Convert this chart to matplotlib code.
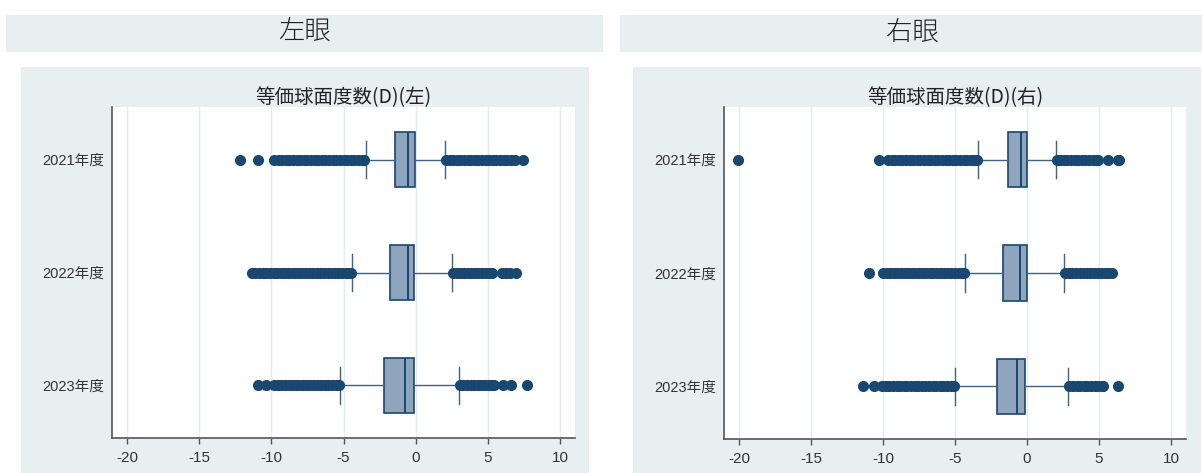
import matplotlib.pyplot as plt
from matplotlib.patches import Rectangle

# categories (top to bottom)
years = ['2021年度', '2022年度', '2023年度']

# left eye: box stats
left_q1 = [-1.44, -1.78, -2.18]
left_med = [-0.50, -0.53, -0.77]
left_q3 = [-0.06, -0.10, -0.13]
left_whislo = [-3.46, -4.38, -5.26]
left_whishi = [2.02, 2.55, 2.98]
left_fliers = [
    [-12.2, -10.9, -9.8, -9.5, -9.25, -9.0, -8.75, -8.5, -8.25, -8.0, -7.75,
     -7.5, -7.25, -7.0, -6.75, -6.5, -6.25, -6.0, -5.75, -5.5, -5.25, -5.0,
     -4.75, -4.5, -4.25, -4.0, -3.75, -3.55,
     2.1, 2.35, 2.6, 2.85, 3.1, 3.35, 3.6, 3.85, 4.1, 4.35, 4.6, 4.85, 5.1,
     5.35, 5.6, 5.85, 6.1, 6.35, 6.6, 6.85, 7.45],
    [-11.35, -11.1, -10.85, -10.6, -10.35, -10.1, -9.85, -9.6, -9.35, -9.1,
     -8.85, -8.6, -8.35, -8.1, -7.85, -7.6, -7.35, -7.1, -6.85, -6.6, -6.35,
     -6.1, -5.85, -5.6, -5.35, -5.1, -4.85, -4.6, -4.45,
     2.6, 2.85, 3.1, 3.35, 3.6, 3.85, 4.1, 4.35, 4.6, 4.85, 5.1, 5.3, 5.95,
     6.25, 6.55, 6.95],
    [-10.95, -10.35, -9.8, -9.55, -9.3, -9.05, -8.8, -8.55, -8.3, -8.05, -7.8,
     -7.55, -7.3, -7.05, -6.8, -6.55, -6.3, -6.05, -5.8, -5.55, -5.3,
     3.05, 3.3, 3.55, 3.8, 4.05, 4.3, 4.55, 4.8, 5.05, 5.3, 5.45, 6.05, 6.6,
     7.7],
]

# right eye
right_q1 = [-1.35, -1.70, -2.07]
right_med = [-0.42, -0.48, -0.69]
right_q3 = [-0.02, -0.02, -0.13]
right_whislo = [-3.41, -4.29, -5.03]
right_whishi = [2.03, 2.59, 2.88]
right_fliers = [
    [-20.1, -10.3, -9.65, -9.4, -9.15, -8.9, -8.65, -8.4, -8.15, -7.9, -7.65,
     -7.4, -7.15, -6.9, -6.65, -6.4, -6.15, -5.9, -5.65, -5.4, -5.15, -4.9,
     -4.65, -4.4, -4.15, -3.9, -3.65, -3.45,
     2.05, 2.3, 2.55, 2.8, 3.05, 3.3, 3.55, 3.8, 4.05, 4.3, 4.55, 4.8, 4.95,
     5.6, 6.3, 6.4],
    [-10.97, -10.0, -9.75, -9.5, -9.25, -9.0, -8.75, -8.5, -8.25, -8.0, -7.75,
     -7.5, -7.25, -7.0, -6.75, -6.5, -6.25, -6.0, -5.75, -5.5, -5.25, -5.0,
     -4.75, -4.5, -4.35,
     2.65, 2.9, 3.15, 3.4, 3.65, 3.9, 4.15, 4.4, 4.65, 4.9, 5.15, 5.4, 5.65,
     5.9],
    [-11.4, -10.6, -10.05, -9.8, -9.55, -9.3, -9.05, -8.8, -8.55, -8.3, -8.05,
     -7.8, -7.55, -7.3, -7.05, -6.8, -6.55, -6.3, -6.05, -5.8, -5.55, -5.3,
     -5.1,
     2.95, 3.2, 3.45, 3.7, 3.95, 4.2, 4.45, 4.7, 4.95, 5.2, 5.3, 6.3],
]

xticks = [-20, -15, -10, -5, 0, 5, 10]

NAVY = '#1a476f'
FILL = '#8fa5bd'
PANEL = '#e8eff1'
CJK = ['Noto Sans CJK JP', 'DejaVu Sans']
LAT = ['Liberation Sans', 'Noto Sans CJK JP']

W, H = 1202, 473
fig = plt.figure(figsize=(W / 100, H / 100), dpi=100)


def fig_rect(x0, y0, x1, y1):
    # pixel box (top-left origin) -> figure fraction
    return [x0 / W, 1 - y1 / H, (x1 - x0) / W, (y1 - y0) / H]


def add_bg(x0, y0, x1, y1):
    l, b, w, h = fig_rect(x0, y0, x1, y1)
    fig.patches.append(Rectangle((l, b), w, h, transform=fig.transFigure,
                                 facecolor=PANEL, edgecolor='none', zorder=-5))


# header bands and panel backgrounds
add_bg(6, 15, 603, 52)
add_bg(620, 15, 1202, 52)
add_bg(21, 67, 589, 473)
add_bg(633, 67, 1201, 473)
fig.text(304 / W, 1 - 32 / H, '左眼', ha='center', va='center',
         fontsize=19, family=CJK, fontweight='light', color='#222222')
fig.text(912 / W, 1 - 32 / H, '右眼', ha='center', va='center',
         fontsize=19, family=CJK, fontweight='light', color='#222222')


def draw_panel(rect, title, q1, med, q3, lo, hi, fliers):
    ax = fig.add_axes(fig_rect(*rect))
    ax.set_zorder(2)
    stats = []
    for i in range(len(years)):
        stats.append({'label': years[i], 'q1': q1[i], 'med': med[i], 'q3': q3[i],
                      'whislo': lo[i], 'whishi': hi[i], 'fliers': fliers[i]})
    ax.bxp(stats, positions=range(len(years)), orientation='horizontal',
           widths=0.49, capwidths=0.33, patch_artist=True,
           boxprops=dict(facecolor=FILL, edgecolor=NAVY, linewidth=1.2),
           medianprops=dict(color=NAVY, linewidth=1.4),
           whiskerprops=dict(color='#3d6386', linewidth=1.0),
           capprops=dict(color='#3d6386', linewidth=1.0),
           flierprops=dict(marker='o', markerfacecolor=NAVY, markeredgecolor=NAVY,
                           markersize=7, linestyle='none'))
    ax.set_xlim(-21.04, 11.04)
    ax.set_ylim(2.465, -0.465)
    ax.set_xticks(xticks)
    ax.set_xticklabels([str(t) for t in xticks], family=LAT, fontsize=11, color='#333333')
    ax.set_yticklabels(years, family=LAT, fontsize=10.5, color='#333333')
    ax.tick_params(axis='x', length=4, width=1, color='#555555', pad=5)
    ax.tick_params(axis='y', length=0, pad=6)
    ax.grid(axis='x', color='#e4ecef', linewidth=1)
    ax.set_axisbelow(True)
    for s in ['top', 'right']:
        ax.spines[s].set_visible(False)
    for s in ['left', 'bottom']:
        ax.spines[s].set_color('#555555')
        ax.spines[s].set_linewidth(1.2)
    ax.text(0.5, 1.027, title, transform=ax.transAxes, ha='center', va='center',
            fontsize=14, family=CJK, color='#222222')
    return ax


draw_panel((112, 107, 575, 438), '等価球面度数(D)(左)',
           left_q1, left_med, left_q3, left_whislo, left_whishi, left_fliers)
draw_panel((724, 107, 1186, 439), '等価球面度数(D)(右)',
           right_q1, right_med, right_q3, right_whislo, right_whishi, right_fliers)

fig.savefig('out.png', dpi=100, facecolor='white')
